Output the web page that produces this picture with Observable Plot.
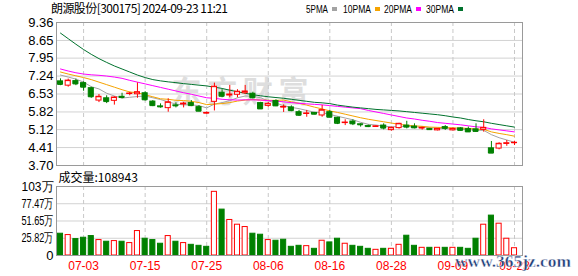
<!DOCTYPE html>
<html><head><meta charset="utf-8">
<script src="https://cdn.jsdelivr.net/npm/d3@7"></script>
<script src="https://cdn.jsdelivr.net/npm/@observablehq/plot@0.6"></script>
<style>
body{margin:0;background:#fff;}
#wrap{position:relative;width:578px;height:276px;overflow:hidden;}
#wrap svg{position:absolute;left:0;}
</style></head><body><div id="wrap"></div>
<script>
const title = "朗源股份[300175] 2024-09-23 11:21";
const dates = ["2024-06-28","2024-07-01","2024-07-02","2024-07-03","2024-07-04","2024-07-05","2024-07-08","2024-07-09","2024-07-10","2024-07-11","2024-07-12","2024-07-15","2024-07-16","2024-07-17","2024-07-18","2024-07-19","2024-07-22","2024-07-23","2024-07-24","2024-07-25","2024-07-26","2024-07-29","2024-07-30","2024-07-31","2024-08-01","2024-08-02","2024-08-05","2024-08-06","2024-08-07","2024-08-08","2024-08-09","2024-08-12","2024-08-13","2024-08-14","2024-08-15","2024-08-16","2024-08-19","2024-08-20","2024-08-21","2024-08-22","2024-08-23","2024-08-26","2024-08-27","2024-08-28","2024-08-29","2024-08-30","2024-09-02","2024-09-03","2024-09-04","2024-09-05","2024-09-06","2024-09-09","2024-09-10","2024-09-11","2024-09-12","2024-09-13","2024-09-18","2024-09-19","2024-09-20","2024-09-23"];
const opens  = [7.03,6.86,7.04,6.96,6.76,6.27,6.36,6.26,6.42,6.53,6.52,6.56,6.23,6.04,5.97,6.08,6.12,6.17,6.01,5.76,6.22,6.58,6.47,6.50,6.56,6.54,6.17,6.06,6.25,6.00,6.00,5.81,5.74,5.78,5.68,5.81,5.59,5.38,5.44,5.33,5.26,5.23,5.28,5.10,5.18,5.28,5.24,5.17,5.14,5.09,5.22,5.09,5.17,5.14,5.13,5.11,4.38,4.37,4.56,4.59];
const highs  = [7.13,7.12,7.12,7.01,6.80,6.51,6.46,6.42,6.56,6.60,6.97,6.62,6.27,6.14,6.34,6.18,6.20,6.27,6.07,5.82,6.96,6.70,6.87,6.70,6.87,6.60,6.20,6.19,6.30,6.10,6.06,5.88,5.88,5.80,6.08,5.88,5.61,5.51,5.51,5.35,5.30,5.27,5.35,5.22,5.37,5.45,5.35,5.22,5.17,5.17,5.28,5.18,5.20,5.22,5.35,5.51,4.65,4.60,4.69,4.66];
const lows   = [6.86,6.80,6.86,6.64,6.36,6.19,6.15,6.09,6.34,6.46,6.36,6.25,6.03,5.97,5.81,5.98,5.98,6.03,5.83,5.74,5.86,6.38,6.38,6.38,6.51,6.34,5.92,6.01,6.03,5.80,5.83,5.64,5.61,5.71,5.61,5.59,5.32,5.28,5.28,5.22,5.20,5.21,5.11,5.06,5.14,5.15,5.15,5.10,5.10,5.07,5.09,5.07,5.07,5.01,5.01,5.02,4.19,4.32,4.46,4.49];
const closes = [6.91,7.06,6.93,6.80,6.42,6.42,6.23,6.39,6.39,6.55,6.60,6.30,6.07,6.02,6.20,6.06,6.15,6.07,5.85,5.78,6.82,6.44,6.51,6.62,6.63,6.38,5.94,6.14,6.06,6.02,5.87,5.69,5.76,5.73,5.89,5.61,5.37,5.40,5.35,5.31,5.24,5.25,5.18,5.19,5.35,5.22,5.19,5.19,5.12,5.15,5.17,5.15,5.09,5.03,5.05,5.19,4.19,4.56,4.58,4.60];
const ma5  = [7.28,7.20,7.12,7.00,6.82,6.73,6.56,6.45,6.37,6.40,6.43,6.45,6.38,6.31,6.22,6.13,6.10,6.10,6.07,5.98,6.13,6.19,6.27,6.38,6.45,6.44,6.38,6.26,6.17,6.07,6.00,5.95,5.88,5.81,5.79,5.72,5.65,5.58,5.51,5.41,5.33,5.30,5.26,5.23,5.24,5.24,5.23,5.22,5.20,5.17,5.16,5.15,5.14,5.12,5.10,5.09,4.92,4.80,4.71,4.62];
const ma10 = [7.40,7.32,7.25,7.18,7.10,7.00,6.90,6.80,6.70,6.61,6.58,6.50,6.42,6.34,6.32,6.28,6.27,6.24,6.19,6.11,6.13,6.15,6.19,6.25,6.29,6.31,6.29,6.28,6.28,6.29,6.22,6.16,6.09,6.01,5.94,5.86,5.80,5.73,5.66,5.59,5.53,5.48,5.43,5.38,5.33,5.29,5.27,5.25,5.22,5.21,5.20,5.19,5.18,5.17,5.14,5.13,5.03,4.97,4.92,4.86];
const ma20 = [7.52,7.44,7.37,7.32,7.29,7.27,7.24,7.20,7.15,7.07,7.00,6.93,6.86,6.79,6.72,6.65,6.58,6.52,6.45,6.38,6.36,6.32,6.30,6.29,6.30,6.30,6.29,6.27,6.25,6.22,6.19,6.16,6.14,6.12,6.10,6.07,6.04,6.01,5.98,5.95,5.88,5.82,5.76,5.70,5.64,5.58,5.54,5.49,5.45,5.40,5.37,5.34,5.31,5.27,5.23,5.21,5.15,5.11,5.07,5.03];
const ma30 = [8.94,8.72,8.50,8.29,8.10,7.93,7.78,7.64,7.52,7.40,7.28,7.18,7.10,7.05,7.01,6.98,6.94,6.91,6.88,6.85,6.80,6.75,6.68,6.62,6.56,6.50,6.46,6.42,6.39,6.36,6.32,6.28,6.24,6.20,6.18,6.15,6.09,6.05,6.01,5.98,5.95,5.92,5.90,5.88,5.86,5.83,5.80,5.77,5.74,5.71,5.67,5.62,5.58,5.52,5.47,5.43,5.37,5.32,5.27,5.22];
const volumes = [32.6,30.6,24.6,26.6,29.1,23.1,20.6,21.6,20.6,18.6,36.6,25.1,23.1,17.6,29.1,20.6,18.6,16.0,14.5,13.0,95.3,68.7,53.2,46.1,42.6,32.6,31.1,23.1,22.1,23.6,13.0,14.5,14.0,10.0,22.1,19.6,25.1,17.6,14.5,13.0,10.0,8.5,10.0,10.0,16.0,29.6,14.5,11.5,11.5,11.5,11.5,11.5,11.5,10.0,25.1,46.1,59.7,47.6,25.1,10.9];
const volColors = ["g","r","g","g","g","r","g","r","g","r","r","g","g","g","r","g","r","g","g","g","r","g","r","r","r","g","g","r","g","g","g","g","r","g","r","g","g","r","g","g","g","r","g","r","r","g","g","r","g","r","g","r","g","g","g","r","g","r","r","r"];
const lastVolume = "108943";
const priceTicks = [3.70,4.41,5.12,5.82,6.53,7.24,7.95,8.65,9.36];
const volTicks = [0,25.82,51.65,77.47,103.29];
const volTickLabels = ["0","25.82万","51.65万","77.47万","103万"];
const tickLabels = ["07-03","07-15","07-25","08-06","08-16","08-28","09-09","09-23"];
const maNames = ["5PMA","10PMA","20PMA","30PMA"];
const maColors = ["#a3a3a3","#f5a300","#ff00ff","#00722d"];

const RED = "#ff0000", GREEN = "#008000";
const BW = 0.33;
const rows = dates.map((d,i)=>({i, date:d, open:opens[i], high:highs[i], low:lows[i], close:closes[i],
  up: closes[i] >= opens[i], vol: volumes[i], volUp: volColors[i] === "r"}));
const maSeries = [ma5, ma10, ma20, ma30];
const tickIdx = dates.map((d,i)=>i).filter(i => tickLabels.includes(dates[i].slice(5)));
const xDomain = [-0.52, 60.04];
const font = "'Liberation Sans', Arial, sans-serif";

const price = Plot.plot({
  width: 578, height: 172,
  marginLeft: 56, marginRight: 56, marginTop: 22, marginBottom: 7,
  x: {type: "linear", domain: xDomain, axis: null},
  y: {domain: [3.70, 9.36]},
  color: {type: "identity"},
  style: {fontFamily: font, fontSize: "13px", color: "#000", background: "transparent", overflow: "visible"},
  marks: [
    Plot.ruleY(priceTicks, {stroke: "#d2d2d2"}),
    Plot.ruleX(tickIdx, {stroke: "#c8c8c8", strokeDasharray: "4,3"}),
    ...maSeries.map((s, k) => Plot.line(s.map((v,i)=>({i, v})), {x: "i", y: "v", stroke: maColors[k], strokeWidth: 1})),
    Plot.ruleX(rows, {x: "i", y1: "low", y2: "high", stroke: d => d.up ? RED : GREEN}),
    Plot.rect(rows, {x1: d => d.i - BW, x2: d => d.i + BW, y1: "open", y2: "close",
      fill: d => d.up ? "#ffffff" : GREEN, stroke: d => d.up ? RED : GREEN}),
    Plot.ruleY(rows, {y: "close", x1: d => d.i - BW, x2: d => d.i + BW, stroke: d => d.up ? RED : GREEN}),
    Plot.frame({stroke: "#9a9a9a"}),
    Plot.axisY(priceTicks, {tickSize: 0, tickPadding: 3, label: null, tickFormat: d => d.toFixed(2), fontSize: 13})
  ]
});
price.style.top = "0px";

const volume = Plot.plot({
  width: 578, height: 104,
  marginLeft: 56, marginRight: 56, marginTop: 14, marginBottom: 21,
  x: {type: "linear", domain: xDomain},
  y: {domain: [0, 103.29]},
  color: {type: "identity"},
  style: {fontFamily: font, fontSize: "12px", color: "#000", background: "transparent", overflow: "visible"},
  marks: [
    Plot.ruleY(volTicks.slice(1, -1), {stroke: "#d2d2d2"}),
    Plot.ruleX(tickIdx, {stroke: "#c8c8c8", strokeDasharray: "4,3"}),
    Plot.rect(rows, {x1: d => d.i - BW, x2: d => d.i + BW, y1: 0, y2: "vol",
      fill: d => d.volUp ? "#ffffff" : GREEN, stroke: d => d.volUp ? RED : GREEN}),
    Plot.frame({stroke: "#9a9a9a"}),
    Plot.axisY(volTicks, {tickSize: 0, tickPadding: 3, fontSize: 13, label: null,
      tickFormat: d => volTickLabels[volTicks.indexOf(d)]}),
    Plot.axisX(tickIdx, {tickSize: 0, tickPadding: 6, fontSize: 12, color: RED, label: null,
      tickFormat: i => dates[i].slice(5)}),
    Plot.text(["成交量:" + lastVolume], {frameAnchor: "top-left", dx: 2, dy: -8, textAnchor: "start",
      lineAnchor: "middle", fontSize: 12, fontFamily: "'Noto Sans CJK SC', sans-serif", fill: "#000"})
  ]
});
volume.style.top = "172px";

// squeeze the 万 labels to the reference width
d3.select(volume).selectAll("text").filter(function(){ return this.textContent.includes("万"); })
  .attr("textLength", 32).attr("lengthAdjust", "spacingAndGlyphs");

// faint watermark behind the price marks
d3.select(price).insert("text", "g")
  .attr("x", 240).attr("y", 102)
  .attr("font-family", "'Noto Sans CJK SC', sans-serif").attr("font-weight", "bold")
  .attr("font-size", 30).attr("fill", "#dedede")
  .attr("textLength", 137).attr("lengthAdjust", "spacing")
  .text("东方财富");

const wrap = document.getElementById("wrap");
wrap.appendChild(price);
wrap.appendChild(volume);

// header: title and legend
const ov = d3.create("svg").attr("width", 578).attr("height", 276)
  .style("top", "0px").style("pointer-events", "none");
ov.append("text").attr("x", 51).attr("y", 13)
  .attr("font-family", "'Noto Sans CJK SC', sans-serif").attr("font-size", 12)
  .attr("textLength", 177).attr("lengthAdjust", "spacing").text(title);
const legX = [306, 343, 384, 426];
const legW = [22, 28, 28, 28];
maNames.forEach((n, k) => {
  ov.append("text").attr("x", legX[k]).attr("y", 12.5)
    .attr("font-family", font).attr("font-size", 11)
    .attr("textLength", legW[k]).attr("lengthAdjust", "spacingAndGlyphs").text(n);
  ov.append("rect").attr("x", legX[k] + legW[k] + 4).attr("y", 7).attr("width", 5).attr("height", 4)
    .attr("fill", maColors[k]);
});
ov.append("text").attr("x", 455).attr("y", 267)
  .attr("font-family", "'Liberation Serif', serif").attr("font-weight", "bold").attr("font-size", 17)
  .attr("fill", "#1d3c78").attr("stroke", "#ffffff").attr("stroke-width", 0.4)
  .attr("textLength", 116).attr("lengthAdjust", "spacingAndGlyphs").text("www.365jz.com");
wrap.appendChild(ov.node());
</script></body></html>
